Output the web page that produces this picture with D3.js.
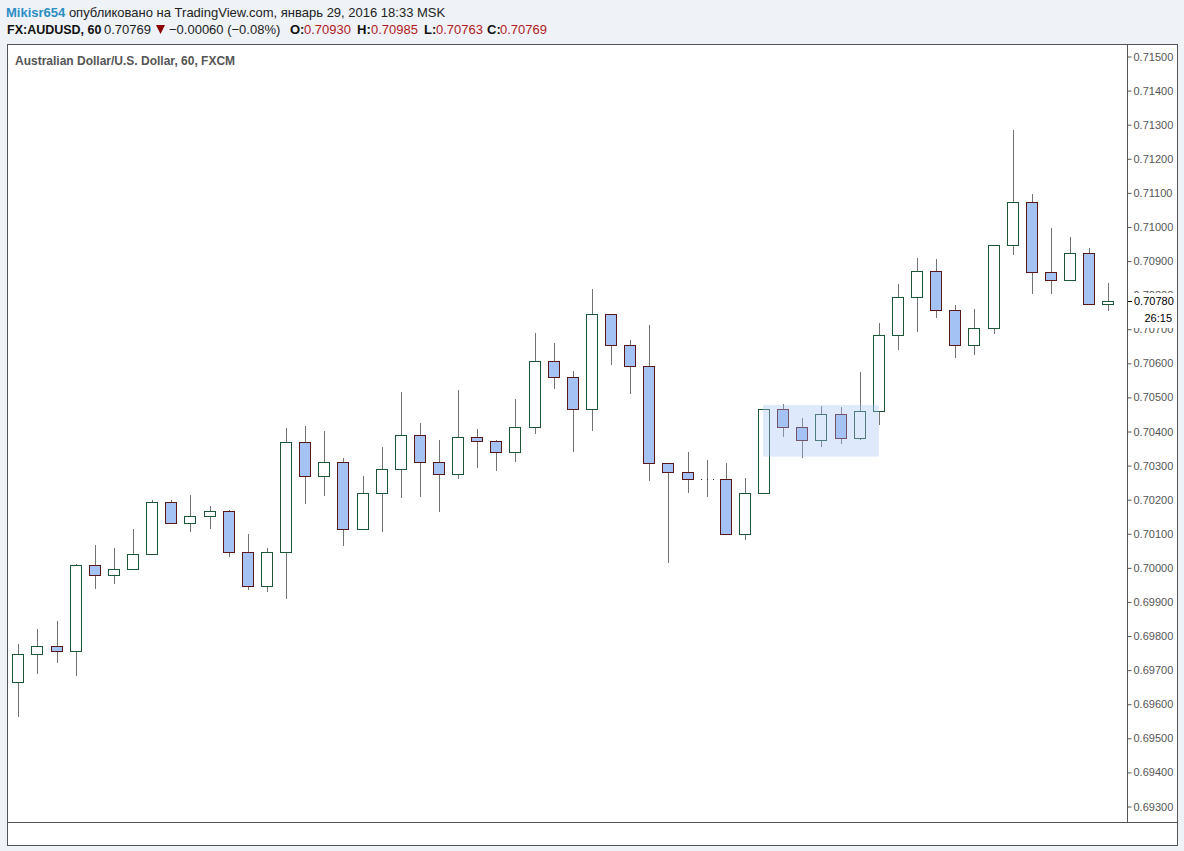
<!DOCTYPE html>
<html>
<head>
<meta charset="utf-8">
<script src="https://cdn.jsdelivr.net/npm/d3@7/dist/d3.min.js"></script>
<style>
  html, body { margin: 0; padding: 0; background: #eff3f7; }
  svg { display: block; }
  text { font-family: "Liberation Sans", Arial, sans-serif; }
</style>
</head>
<body>
<svg id="chart" width="1184" height="851"></svg>
<script>
// ---- data ----
const opens  = [0.69663,0.69745,0.69768,0.69754,0.70006,0.69977,0.69994,0.70038,0.70191,0.70129,
                0.70150,0.70164,0.70044,0.69944,0.70044,0.70367,0.70267,0.70308,0.70112,0.70217,
                0.70288,0.70387,0.70308,0.70273,0.70381,0.70370,0.70338,0.70411,0.70604,0.70558,
                0.70464,0.70742,0.70651,0.70590,0.70305,0.70279,0.70258,0.70258,0.70097,0.70217,
                0.70464,0.70411,0.70373,0.70449,0.70379,0.70458,0.70681,0.70792,0.70868,0.70754,
                0.70651,0.70701,0.70945,0.71071,0.70866,0.70842,0.70921,0.70772];
const highs  = [0.69775,0.69819,0.69843,0.70010,0.70066,0.70057,0.70113,0.70198,0.70198,0.70212,
                0.70180,0.70168,0.70098,0.70057,0.70409,0.70415,0.70400,0.70321,0.70268,0.70353,
                0.70514,0.70423,0.70374,0.70520,0.70406,0.70374,0.70494,0.70687,0.70658,0.70576,
                0.70817,0.70742,0.70667,0.70711,0.70305,0.70338,0.70315,0.70306,0.70262,0.70464,
                0.70479,0.70438,0.70473,0.70470,0.70573,0.70717,0.70831,0.70907,0.70905,0.70770,
                0.70758,0.70945,0.71283,0.71095,0.70995,0.70969,0.70937,0.70834];
const lows   = [0.69562,0.69688,0.69720,0.69682,0.69937,0.69952,0.69994,0.70038,0.70129,0.70103,
                0.70113,0.70031,0.69934,0.69929,0.69908,0.70187,0.70210,0.70064,0.70112,0.70105,
                0.70204,0.70207,0.70163,0.70260,0.70292,0.70284,0.70310,0.70392,0.70524,0.70339,
                0.70401,0.70594,0.70509,0.70254,0.70014,0.70219,0.70207,0.70097,0.70081,0.70214,
                0.70381,0.70320,0.70352,0.70363,0.70373,0.70417,0.70638,0.70691,0.70732,0.70615,
                0.70624,0.70685,0.70917,0.70801,0.70801,0.70842,0.70772,0.70753];
const closes = [0.69745,0.69768,0.69754,0.70006,0.69977,0.69994,0.70038,0.70191,0.70129,0.70150,
                0.70164,0.70044,0.69944,0.70044,0.70367,0.70267,0.70308,0.70112,0.70217,0.70288,
                0.70387,0.70308,0.70273,0.70381,0.70370,0.70338,0.70411,0.70604,0.70558,0.70464,
                0.70742,0.70651,0.70590,0.70305,0.70279,0.70258,0.70258,0.70097,0.70217,0.70464,
                0.70411,0.70373,0.70449,0.70379,0.70458,0.70681,0.70792,0.70868,0.70754,0.70651,
                0.70701,0.70945,0.71071,0.70866,0.70842,0.70921,0.70772,0.70780];
const yTicks = [0.715,0.714,0.713,0.712,0.711,0.710,0.709,0.708,0.707,0.706,0.705,0.704,
                0.703,0.702,0.701,0.700,0.699,0.698,0.697,0.696,0.695,0.694,0.693];
// highlighted consolidation zone: [first bar index, last bar index, top price, bottom price]
const zone = [39, 45, 0.70476, 0.70325];
const lastPrice = 0.70780;
const countdown = "26:15";

// ---- layout ----
const svg = d3.select("#chart");
const P = {left: 7, top: 44, right: 1177, bottom: 845, axisX: 1127, sepY: 822};

const x = d3.scaleLinear().domain([0, opens.length - 1]).range([18.3, 1108.3]);
const y = d3.scaleLinear().domain([0.715, 0.693]).range([56, 806]);

// panel
svg.append("rect").attr("x", P.left + 0.5).attr("y", P.top + 0.5)
  .attr("width", P.right - P.left).attr("height", P.bottom - P.top)
  .attr("fill", "#fff").attr("stroke", "#555");
svg.append("line").attr("x1", P.left).attr("x2", P.right).attr("y1", P.sepY + 0.5).attr("y2", P.sepY + 0.5)
  .attr("stroke", "#555");
svg.append("line").attr("x1", P.axisX + 0.5).attr("x2", P.axisX + 0.5).attr("y1", P.top).attr("y2", P.sepY)
  .attr("stroke", "#555");

// y axis
const axis = d3.axisRight(y).tickValues(yTicks).tickFormat(d3.format(".5f")).tickSize(4).tickPadding(2);
const ag = svg.append("g").attr("transform", `translate(${P.axisX + 0.5},0.5)`).call(axis);
ag.select(".domain").remove();
ag.selectAll(".tick line").attr("stroke", "#555");
ag.selectAll(".tick text").attr("fill", "#555").style("font-size", "11px")
  .style("font-family", "'Liberation Sans', Arial, sans-serif");

// candles
const data = opens.map((o, i) => ({i, o, h: highs[i], l: lows[i], c: closes[i]}));
const cg = svg.append("g");
data.forEach(d => {
  const cx = Math.round(x(d.i));
  const up = d.c > d.o;
  const doji = d.c === d.o;
  cg.append("line").attr("x1", cx + 0.5).attr("x2", cx + 0.5)
    .attr("y1", Math.round(y(d.h))).attr("y2", Math.round(y(d.l)))
    .attr("stroke", "#737373").attr("stroke-width", 1);
  if (doji) {
    const yy = Math.round(y(d.o)) + 0.5;
    cg.append("line").attr("x1", cx - 6).attr("x2", cx + 7).attr("y1", yy).attr("y2", yy)
      .attr("stroke", "#333").attr("stroke-dasharray", "1,5");
    return;
  }
  const t = Math.round(y(Math.max(d.o, d.c)));
  const b = Math.round(y(Math.min(d.o, d.c)));
  cg.append("rect").attr("x", cx - 6 + 0.5).attr("y", t + 0.5)
    .attr("width", 11).attr("height", Math.max(1, b - t))
    .attr("fill", up ? "#ffffff" : "#a4c2f4")
    .attr("stroke", up ? "#1b5637" : "#5b1616").attr("stroke-width", 1);
});

// highlight zone (drawn on top, translucent)
svg.append("rect")
  .attr("x", x(zone[0]) - 1).attr("y", y(zone[2]))
  .attr("width", x(zone[1]) - x(zone[0]) + 1).attr("height", y(zone[3]) - y(zone[2]))
  .attr("fill", "#a4c2f4").attr("fill-opacity", 0.36);

// last price marker
const ly = Math.round(y(lastPrice));
svg.append("rect").attr("x", P.axisX + 1).attr("y", ly - 8).attr("width", P.right - P.axisX - 1.5).attr("height", 35)
  .attr("fill", "#fff");
svg.append("line").attr("x1", P.axisX + 1).attr("x2", P.axisX + 5).attr("y1", ly + 0.5).attr("y2", ly + 0.5)
  .attr("stroke", "#000");
svg.append("text").attr("x", P.axisX + 7).attr("y", ly + 4).text(d3.format(".5f")(lastPrice))
  .attr("fill", "#000").style("font-size", "11px");
svg.append("text").attr("x", 1172).attr("y", ly + 21).attr("text-anchor", "end").text(countdown)
  .attr("fill", "#000").style("font-size", "11px");

// chart title
svg.append("text").attr("x", 15).attr("y", 65).text("Australian Dollar/U.S. Dollar, 60, FXCM")
  .attr("fill", "#555").style("font-size", "12px").style("font-weight", "bold");

// header
const h1 = svg.append("text").attr("x", 6).attr("y", 16.5).style("font-size", "13px");
h1.append("tspan").text("Mikisr654").attr("fill", "#2c8ec6").style("font-weight", "bold");
h1.append("tspan").text(" опубликовано на TradingView.com, январь 29, 2016 18:33 MSK").attr("fill", "#222");

const hy = 34;
const seg = (xx, txt, fill, bold, size) => svg.append("text").attr("x", xx).attr("y", hy).text(txt)
  .attr("fill", fill).style("font-size", (size || 13) + "px").style("font-weight", bold ? "bold" : "normal");
seg(7, "FX:AUDUSD, 60", "#111", true, 12.5);
seg(104, "0.70769", "#222", false);
svg.append("path").attr("d", "M156,25 L165,25 L160.5,34 Z").attr("fill", "#8b0000");
seg(169, "−0.00060 (−0.08%)", "#222", false);
seg(290, "O:", "#111", true);
seg(304, "0.70930", "#b3191e", false);
seg(357, "H:", "#111", true);
seg(371, "0.70985", "#b3191e", false);
seg(424, "L:", "#111", true);
seg(436, "0.70763", "#b3191e", false);
seg(487, "C:", "#111", true);
seg(500, "0.70769", "#b3191e", false);
</script>
</body>
</html>
